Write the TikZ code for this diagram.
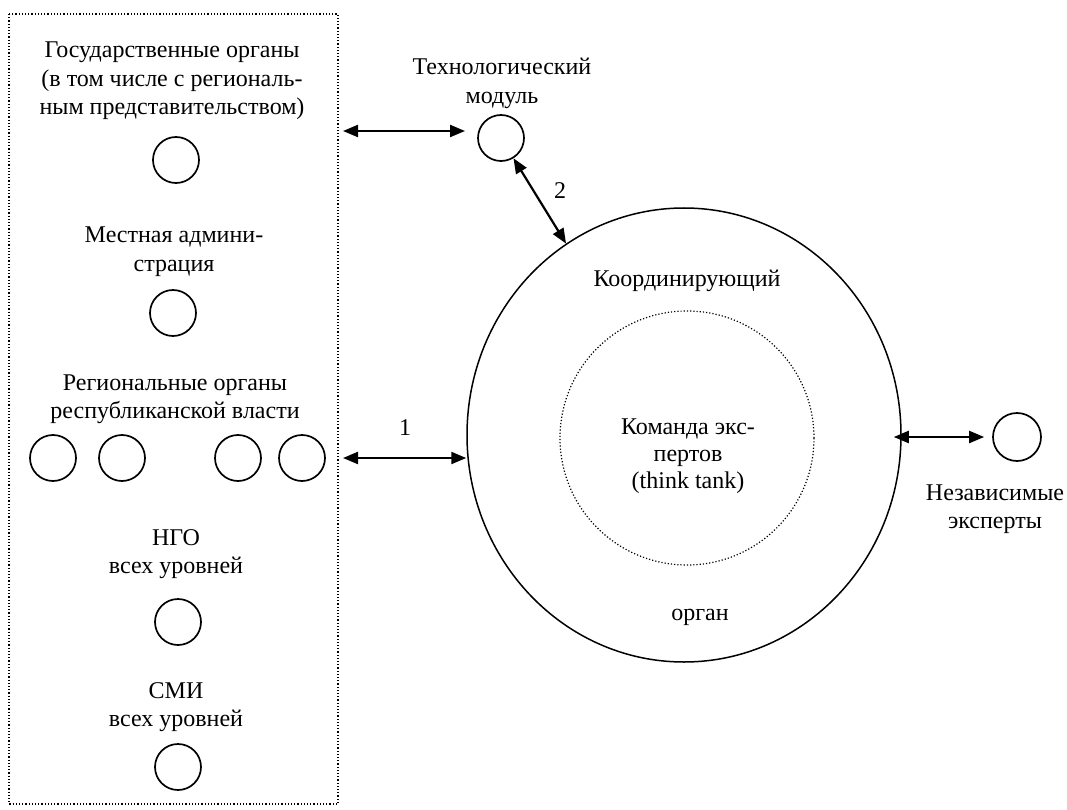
\documentclass[tikz,border=0pt]{standalone}
\usepackage{fontspec}
\setmainfont{Liberation Serif}
\usetikzlibrary{arrows.meta,shapes.geometric}
\begin{document}
\begin{tikzpicture}[x=1pt,y=-1pt,
  lbl/.style={font=\fontsize{24}{28.5}\selectfont, align=center, anchor=base, inner sep=0pt},
  sc/.style={circle, draw, line width=1.7pt, minimum size=46pt, inner sep=0pt},
  dbl/.style={line width=2.2pt, {Triangle[length=15pt,width=12pt]}-{Triangle[length=15pt,width=12pt]}}
]
\useasboundingbox (0,0) rectangle (1067,810);
% dotted frame of the left column
\draw[dotted, line width=1.2pt] (9,14) rectangle (338,804);

% (anchor=base of a multi-line node = baseline of its last line)
\node[lbl] (gov) at (172,115) {Государственные органы\\(в том числе с региональ-\\ным представительством)};
\node[sc] (govc) at (176,160) {};
\node[lbl] (loc) at (174,271.5) {Местная админи-\\страция};
\node[sc] (locc) at (173,313) {};
\node[lbl] (reg) at (175,418.5) {Региональные органы\\республиканской власти};
\node[sc] (r1) at (53,458) {};
\node[sc] (r2) at (122,458) {};
\node[sc] (r3) at (238,458) {};
\node[sc] (r4) at (302,458) {};
\node[lbl] (ngo) at (176,573.5) {НГО\\всех уровней};
\node[sc] (ngoc) at (178,622) {};
\node[lbl] (smi) at (176,726.5) {СМИ\\всех уровней};
\node[sc] (smic) at (178,767) {};

\node[lbl] (techl) at (502,103.5) {Технологический\\модуль};
\node[sc] (tech) at (501,138) {};

\node[ellipse, draw, line width=1.5pt, minimum width=434pt, minimum height=454pt, inner sep=0pt] (coord) at (684,435) {};
\node[circle, draw, dotted, line width=1.2pt, minimum size=254pt, inner sep=0pt] (team) at (687,438) {};
\node[lbl] (coordl) at (687,286) {Координирующий};
\node[lbl, font=\fontsize{24}{27}\selectfont] (teaml) at (688,488) {Команда экс-\\пертов\\(think tank)};
\node[lbl] (organ) at (700,620) {орган};

\node[sc, minimum size=48pt] (ind) at (1017,437) {};
\node[lbl] (indl) at (995,528.5) {Независимые\\эксперты};

\node[lbl] (n1) at (405,435) {1};
\node[lbl] (n2) at (560,199) {2};

\coordinate (b1) at (343,131);
\coordinate (t1) at (465,131);
\draw[dbl] (b1) -- (t1);
\draw[dbl] (tech) -- (coord);
\coordinate (b2) at (343,458);
\draw[dbl] (b2) -- (coord.west |- b2);
\coordinate (ce) at ([xshift=-8pt]coord.east);
\coordinate (ie) at ([xshift=-8pt]ind.west);
\draw[dbl] (ce |- ind) -- (ie);
\end{tikzpicture}
\end{document}
